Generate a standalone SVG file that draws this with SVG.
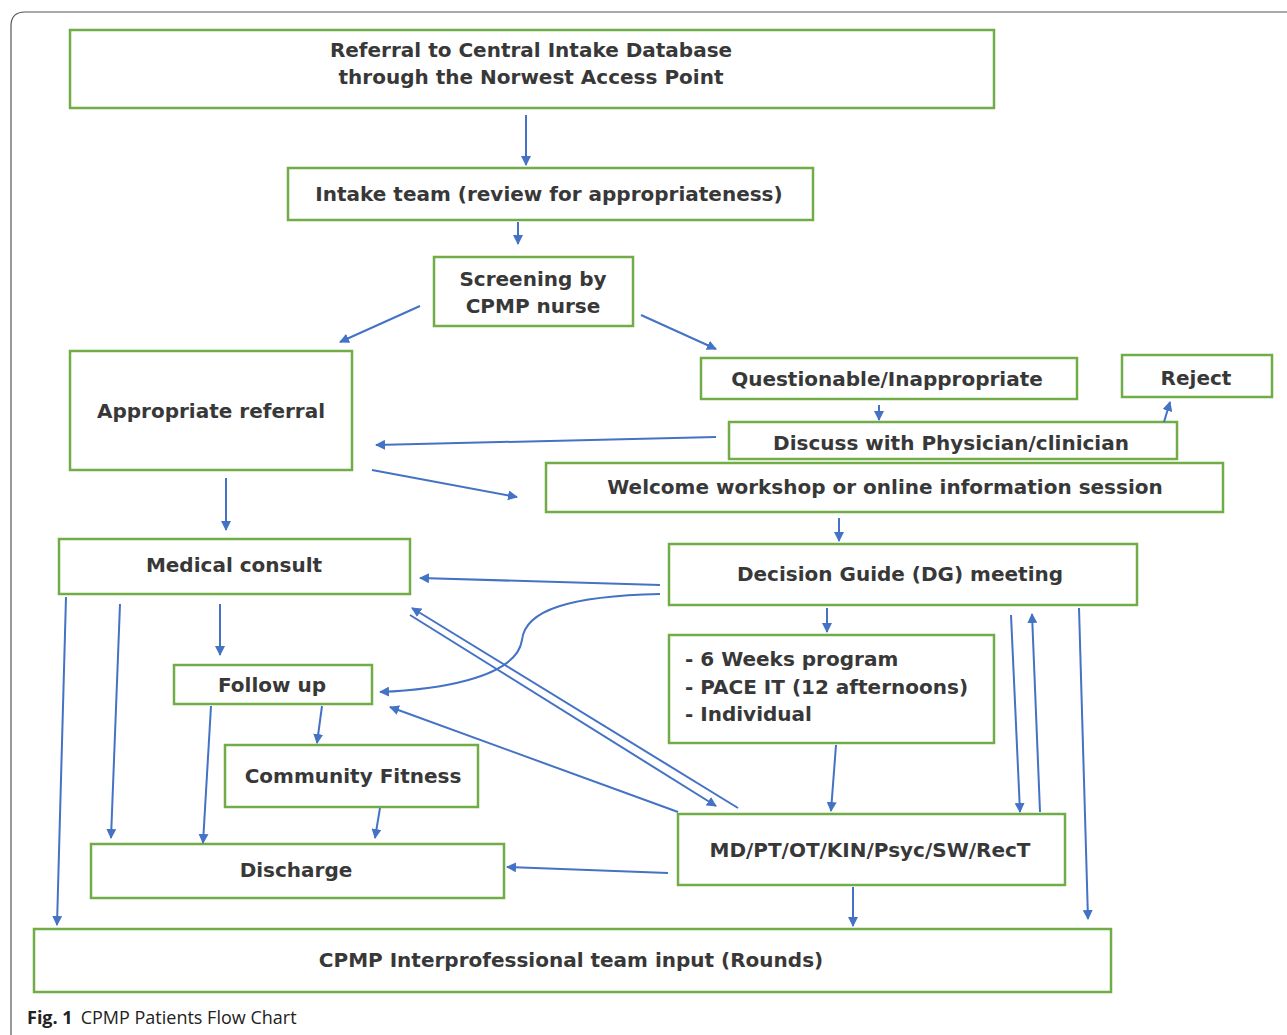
<svg xmlns="http://www.w3.org/2000/svg" width="1287" height="1035" viewBox="0 0 1287 1035">
<defs>
<marker id="ah" viewBox="0 0 10 10" refX="9" refY="5" markerWidth="5" markerHeight="5" orient="auto" markerUnits="strokeWidth">
<path d="M0,0 L10,5 L0,10 z" fill="#4472C4"/>
</marker>
<style>
.box{fill:#fff;stroke:#70AD47;stroke-width:2.5}
.t{font-family:"DejaVu Sans",Verdana,sans-serif;font-size:20px;font-weight:bold;fill:#383838;text-anchor:middle}
.tl{font-family:"DejaVu Sans",Verdana,sans-serif;font-size:20px;font-weight:bold;fill:#383838}
.c{fill:none;stroke:#4472C4;stroke-width:2;marker-end:url(#ah)}
</style>
</defs>
<rect width="1287" height="1035" fill="#fff"/>
<path d="M11,1035 V26 Q11,12 25,12 H1287" fill="none" stroke="#555" stroke-width="1.2"/>

<g id="n-referral"><rect class="box" x="70" y="30" width="924" height="78"/><text class="t" x="531" y="57">Referral to Central Intake Database</text><text class="t" x="531" y="84">through the Norwest Access Point</text></g>
<g id="n-intake"><rect class="box" x="288" y="168" width="525" height="52"/><text class="t" x="549" y="201">Intake team (review for appropriateness)</text></g>
<g id="n-screening"><rect class="box" x="434" y="257" width="199" height="69"/><text class="t" x="533" y="286">Screening by</text><text class="t" x="533" y="313">CPMP nurse</text></g>
<g id="n-appropriate"><rect class="box" x="70" y="351" width="282" height="119"/><text class="t" x="211" y="418">Appropriate referral</text></g>
<g id="n-questionable"><rect class="box" x="701" y="358" width="376" height="41"/><text class="t" x="887" y="386">Questionable/Inappropriate</text></g>
<g id="n-reject"><rect class="box" x="1122" y="355" width="150" height="42"/><text class="t" x="1196" y="385">Reject</text></g>
<g id="n-discuss"><rect class="box" x="729" y="422" width="448" height="37"/><text class="t" x="951" y="450">Discuss with Physician/clinician</text></g>
<g id="n-welcome"><rect class="box" x="546" y="463" width="677" height="49"/><text class="t" x="885" y="494">Welcome workshop or online information session</text></g>
<g id="n-medical"><rect class="box" x="59" y="539" width="351" height="55"/><text class="t" x="234" y="572">Medical consult</text></g>
<g id="n-dg"><rect class="box" x="669" y="544" width="468" height="61"/><text class="t" x="900" y="581">Decision Guide (DG) meeting</text></g>
<g id="n-programs"><rect class="box" x="669" y="635" width="325" height="108"/><text class="tl" x="685" y="666">- 6 Weeks program</text><text class="tl" x="685" y="694">- PACE IT (12 afternoons)</text><text class="tl" x="685" y="721">- Individual</text></g>
<g id="n-followup"><rect class="box" x="174" y="665" width="198" height="39"/><text class="t" x="272" y="692">Follow up</text></g>
<g id="n-community"><rect class="box" x="225" y="745" width="253" height="62"/><text class="t" x="353" y="783">Community Fitness</text></g>
<g id="n-md"><rect class="box" x="678" y="814" width="387" height="71"/><text class="t" x="870" y="857">MD/PT/OT/KIN/Psyc/SW/RecT</text></g>
<g id="n-discharge"><rect class="box" x="91" y="844" width="413" height="54"/><text class="t" x="296" y="877">Discharge</text></g>
<g id="n-rounds"><rect class="box" x="34" y="929" width="1077" height="63"/><text class="t" x="571" y="967">CPMP Interprofessional team input (Rounds)</text></g>

<g id="connectors">
<path class="c" d="M526,115 L526,165"/>
<path class="c" d="M518,222 L518,244"/>
<path class="c" d="M420,306 L340,342"/>
<path class="c" d="M641,315 L716,349"/>
<path class="c" d="M879,405 L879,420"/>
<path class="c" d="M1164,422 L1170,402"/>
<path class="c" d="M716,437 L376,445"/>
<path class="c" d="M372,470 L517,497"/>
<path class="c" d="M226,478 L226,530"/>
<path class="c" d="M839,518 L839,541"/>
<path class="c" d="M660,585 L420,578"/>
<path class="c" d="M660,594 C570,596 525,610 522,640 C516,680 430,690 380,692"/>
<path class="c" d="M827,608 L827,632"/>
<path class="c" d="M410,615 L716,806"/>
<path class="c" d="M738,808 L412,608"/>
<path class="c" d="M678,812 L390,707"/>
<path class="c" d="M220,604 L220,655"/>
<path class="c" d="M120,604 L111,838"/>
<path class="c" d="M66,597 L57,925"/>
<path class="c" d="M211,706 L203,843"/>
<path class="c" d="M322,706 L317,743"/>
<path class="c" d="M380,808 L375,838"/>
<path class="c" d="M668,873 L507,867"/>
<path class="c" d="M836,745 L831,811"/>
<path class="c" d="M853,887 L853,926"/>
<path class="c" d="M1011,615 L1020,812"/>
<path class="c" d="M1040,812 L1032,614"/>
<path class="c" d="M1079,608 L1088,919"/>
</g>

<text x="27" y="1024" font-family="'Open Sans',sans-serif" font-size="18" fill="#222"><tspan font-weight="bold">Fig. 1</tspan><tspan dx="8">CPMP Patients Flow Chart</tspan></text>
</svg>
